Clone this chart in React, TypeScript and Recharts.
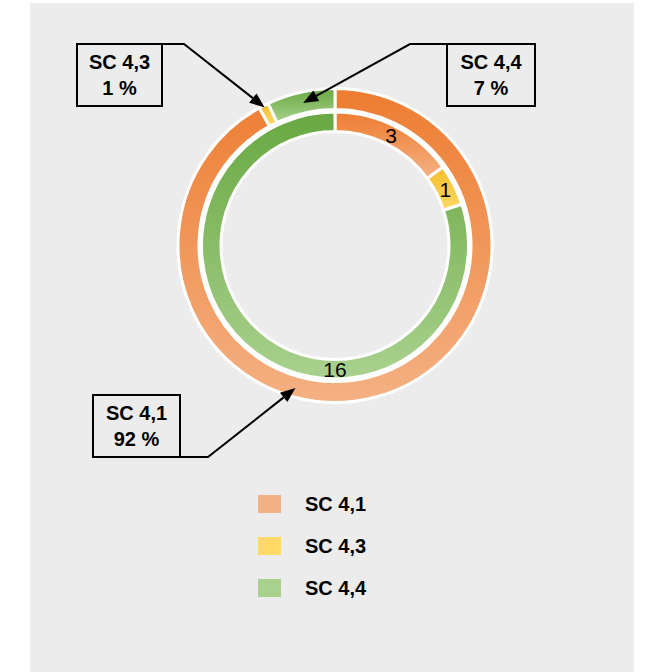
import { PieChart, Pie, Cell, Legend } from "recharts";

// Categories shared by both rings
const categories = ["SC 4,1", "SC 4,3", "SC 4,4"];
// Outer ring: share of total, in percent
const sharePercent = [92, 1, 7];
// Inner ring: counts
const counts = [3, 1, 16];

const darkColors = ["#ed7d31", "#f2bd2c", "#68a841"];
const lightColors = ["#f4b183", "#ffd966", "#a9d18e"];

const FONT = '"Liberation Sans", Arial, sans-serif';
const PANEL = "#ececec";
const RAD = Math.PI / 180;

const outerData = categories.map((name, i) => ({ name, value: sharePercent[i] }));
const innerData = categories.map((name, i) => ({ name, value: counts[i] }));

// callout boxes: box rect, leader line start + elbow, where the arrow lands on the ring
type Callout = {
  x: number;
  y: number;
  w: number;
  h: number;
  from: [number, number];
  elbow: [number, number];
  tipR: number;
  tipAngle?: number;
};

const CALLOUTS: Record<string, Callout> = {
  "SC 4,1": { x: 93, y: 395, w: 87, h: 62, from: [180, 457], elbow: [208, 457], tipR: 148, tipAngle: -105.5 },
  "SC 4,3": { x: 77, y: 44, w: 85, h: 62, from: [162, 44], elbow: [184, 44], tipR: 155 },
  "SC 4,4": { x: 447, y: 44, w: 88, h: 62, from: [447, 44], elbow: [410, 44], tipR: 146 },
};

function polar(cx: number, cy: number, r: number, angle: number) {
  return [cx + r * Math.cos(-angle * RAD), cy + r * Math.sin(-angle * RAD)];
}

// eslint-disable-next-line @typescript-eslint/no-explicit-any
function renderCallout(props: any) {
  const { cx, cy, midAngle, name, value } = props;
  const c = CALLOUTS[name];
  if (!c) return null;
  const [tx, ty] = polar(cx, cy, c.tipR, c.tipAngle ?? midAngle);
  const [ex, ey] = c.elbow;
  const len = Math.hypot(tx - ex, ty - ey);
  const dx = (tx - ex) / len;
  const dy = (ty - ey) / len;
  const bx = tx - dx * 15;
  const by = ty - dy * 15;
  const head = `${tx},${ty} ${bx - dy * 6},${by + dx * 6} ${bx + dy * 6},${by - dx * 6}`;
  return (
    <g key={`callout-${name}`}>
      <polyline
        points={`${c.from[0]},${c.from[1]} ${ex},${ey} ${bx},${by}`}
        fill="none"
        stroke="#000"
        strokeWidth={2}
      />
      <polygon points={head} fill="#000" />
      <rect x={c.x} y={c.y} width={c.w} height={c.h} fill={PANEL} stroke="#000" strokeWidth={2} />
      <text
        x={c.x + c.w / 2}
        y={c.y + 18}
        textAnchor="middle"
        dominantBaseline="central"
        fontFamily={FONT}
        fontWeight="bold"
        fontSize={20}
        fill="#000"
      >
        {name}
      </text>
      <text
        x={c.x + c.w / 2}
        y={c.y + 44}
        textAnchor="middle"
        dominantBaseline="central"
        fontFamily={FONT}
        fontWeight="bold"
        fontSize={20}
        fill="#000"
      >
        {`${value} %`}
      </text>
    </g>
  );
}

// eslint-disable-next-line @typescript-eslint/no-explicit-any
function renderCount(props: any) {
  const { cx, cy, midAngle, innerRadius, outerRadius, percent, value, index } = props;
  // the big slice gets its number at the bottom of the ring
  const angle = percent > 0.5 ? -90 : midAngle;
  const [x, y] = polar(cx, cy, (innerRadius + outerRadius) / 2, angle);
  return (
    <text
      key={`count-${index}`}
      x={x}
      y={y}
      textAnchor="middle"
      dominantBaseline="central"
      fontFamily={FONT}
      fontSize={21}
      fill="#000"
    >
      {value}
    </text>
  );
}

// eslint-disable-next-line @typescript-eslint/no-explicit-any
function LegendList({ payload }: any) {
  // both rings report the same names, keep one row per category
  const names: string[] = [];
  for (const entry of payload ?? []) {
    if (!names.includes(entry.value)) names.push(entry.value);
  }
  return (
    <div style={{ fontFamily: FONT }}>
      {names.map((name) => {
        const i = categories.indexOf(name);
        return (
          <div key={name} style={{ display: "flex", alignItems: "center", height: 42 }}>
            <span
              style={{ width: 23, height: 18, background: lightColors[i], display: "inline-block", marginRight: 24 }}
            />
            <span style={{ fontSize: 20, fontWeight: "bold", color: "#000" }}>{name}</span>
          </div>
        );
      })}
    </div>
  );
}

export default function App() {
  return (
    <div style={{ position: "absolute", left: 0, top: 0, width: 656, height: 672, background: "#fff" }}>
      <div style={{ position: "absolute", left: 30, top: 3, width: 604, height: 669, background: PANEL }} />
      <div style={{ position: "absolute", left: 0, top: 0 }}>
        <PieChart width={656} height={672} margin={{ top: 0, right: 0, bottom: 0, left: 0 }}>
          <defs>
            {categories.map((c, i) => (
              <linearGradient key={c} id={`fill-${i}`} x1="0" y1="0" x2="0" y2="1">
                <stop offset="0%" stopColor={darkColors[i]} />
                <stop offset="100%" stopColor={lightColors[i]} />
              </linearGradient>
            ))}
          </defs>
          <Pie
            data={innerData}
            dataKey="value"
            nameKey="name"
            cx={335}
            cy={245.5}
            innerRadius={114}
            outerRadius={133.5}
            startAngle={90}
            endAngle={-270}
            stroke="#fff"
            strokeWidth={3}
            legendType="none"
            label={renderCount}
            labelLine={false}
            isAnimationActive={false}
          >
            {innerData.map((d, i) => (
              <Cell key={d.name} fill={`url(#fill-${i})`} />
            ))}
          </Pie>
          <Pie
            data={outerData}
            dataKey="value"
            nameKey="name"
            cx={335}
            cy={245.5}
            innerRadius={136}
            outerRadius={157}
            startAngle={90}
            endAngle={-270}
            stroke="#fff"
            strokeWidth={3}
            label={renderCallout}
            labelLine={false}
            isAnimationActive={false}
          >
            {outerData.map((d, i) => (
              <Cell key={d.name} fill={`url(#fill-${i})`} />
            ))}
          </Pie>
          <Legend
            content={<LegendList />}
            wrapperStyle={{ position: "absolute", left: 258, top: 483, width: 200 }}
          />
        </PieChart>
      </div>
    </div>
  );
}
